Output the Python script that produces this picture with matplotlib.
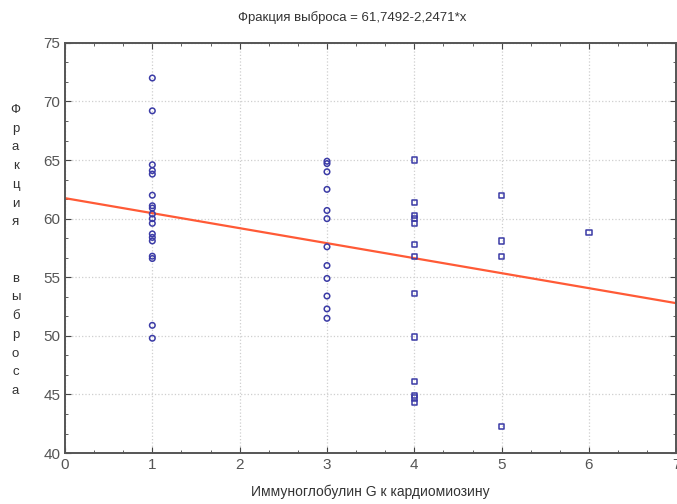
import numpy as np
import matplotlib
matplotlib.use("Agg")
import matplotlib.pyplot as plt
from matplotlib.ticker import MultipleLocator

# IgG to cardiomyosin level vs. ejection fraction
y1 = [72.0, 69.2, 64.6, 64.1, 63.8, 62.0, 61.1, 60.9, 60.4, 60.0, 59.6,
      58.7, 58.4, 58.1, 56.8, 56.6, 50.9, 49.8]
x1 = [1] * len(y1)
y3 = [64.9, 64.7, 64.0, 62.5, 60.7, 60.0, 57.6, 56.0, 54.9, 53.4, 52.3, 51.5]
x3 = [3] * len(y3)
y4 = [65.0, 61.4, 60.3, 60.0, 59.6, 57.8, 56.8, 53.6, 49.9, 46.1, 44.9, 44.7, 44.3]
x4 = [4] * len(y4)
x5 = [5, 5, 5, 5, 6]
y5 = [62.0, 58.1, 56.8, 42.3, 58.8]

# trend line as drawn on the plot
intercept = 61.7492
slope = -1.28

title = "Фракция выброса = 61,7492-2,2471*x"
xlabel = "Иммуноглобулин G к кардиомиозину"
ylabel = "Фракция  выброса"

plt.rcParams['font.family'] = ['Liberation Sans', 'DejaVu Sans']

fig = plt.figure(figsize=(6.77, 5.04), dpi=100)
ax = fig.add_axes([0.096, 0.101, 0.903, 0.814])

blue = '#3b3ba6'
ax.scatter(x1 + x3, y1 + y3, s=16, marker='o', facecolors='none',
           edgecolors=blue, linewidths=1.1, zorder=3)
ax.scatter(x4 + x5, y4 + y5, s=14, marker='s', facecolors='none',
           edgecolors=blue, linewidths=1.1, zorder=3)

lx = np.array([0, 7])
ax.plot(lx, intercept + slope * lx, color='#ff5a36', lw=1.6, zorder=2)

ax.set_xlim(0, 7)
ax.set_ylim(40, 75)
ax.xaxis.set_major_locator(MultipleLocator(1))
ax.yaxis.set_major_locator(MultipleLocator(5))
ax.xaxis.set_minor_locator(MultipleLocator(1 / 3))
ax.yaxis.set_minor_locator(MultipleLocator(5 / 3))
ax.tick_params(which='both', direction='in', top=True, right=True,
               colors='#444444', labelcolor='#555555', labelsize=11)
ax.tick_params(which='major', length=4)
ax.tick_params(which='minor', length=2.5)
ax.grid(True, which='major', color='#cfcfcf', ls=':', lw=0.9)
for sp in ax.spines.values():
    sp.set_color('#555555')
    sp.set_linewidth(1.4)

fig.text(0.52, 0.965, title, ha='center', va='center', fontsize=9.5, color='#333333')
ax.set_xlabel(xlabel, fontsize=10, color='#333333', labelpad=9)
fig.text(0.023, 0.503, "\n".join(ylabel), ha='center', va='center',
         fontsize=9.5, color='#333333', linespacing=1.75)

fig.savefig('out.png', dpi=100)
